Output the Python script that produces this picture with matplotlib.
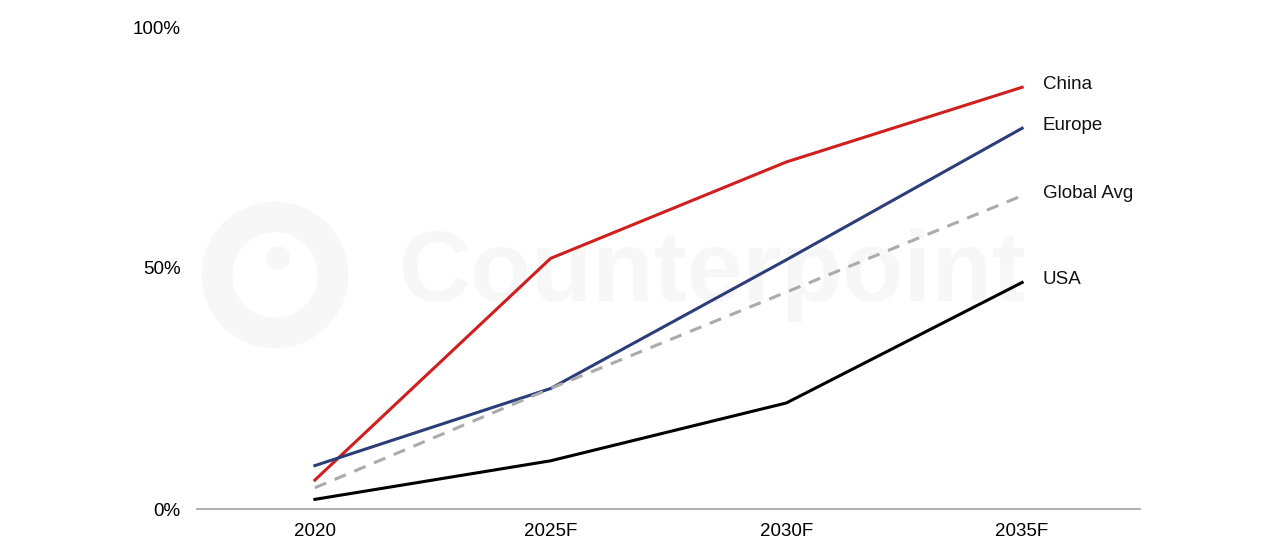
import matplotlib
matplotlib.use("Agg")
import matplotlib.pyplot as plt

plt.rcParams['font.family'] = ['Liberation Sans', 'DejaVu Sans']

years = ["2020", "2025F", "2030F", "2035F"]
china = [6, 52, 72, 87.5]
europe = [9, 25, 51.7, 79]
global_avg = [4.4, 25, 45, 65]
usa = [2, 10, 22, 47]
yticks = [0, 50, 100]
ytick_labels = ["0%", "50%", "100%"]

fig = plt.figure(figsize=(12.8, 5.45), dpi=100)
ax = fig.add_axes([197/1280, 1-509/545, (1140-197)/1280, (509-27)/545])
ax.set_zorder(5)

# faint watermark (behind everything)
wm = '#f7f7f7'
fig.text(0.312, 0.495, "Counterpoint", fontsize=72, fontweight='bold', color=wm,
         ha='left', va='center', zorder=0)
ring = plt.Circle((275, 545-275), 58, transform=None, fill=False, lw=22, ec=wm, zorder=0)
fig.patches.append(ring)
dot = plt.Circle((278, 545-258), 12, transform=None, fc=wm, ec='none', zorder=0)
fig.patches.append(dot)

x = list(range(len(years)))
series = [
    ("China", china, '#d01f1f', '-'),
    ("Europe", europe, '#2c3e78', '-'),
    ("Global Avg", global_avg, '#ababab', (0, (4, 3))),
    ("USA", usa, '#000000', '-'),
]
for name, vals, col, ls in series:
    ax.plot(x, vals, color=col, lw=2.2, ls=ls, zorder=3)
    ax.annotate(name, xy=(x[-1], vals[-1]), xytext=(15, 1.8), textcoords='offset points',
                fontsize=13.5, ha='left', va='center', color='#111111')

ax.set_xlim(-0.5, 3.5)
ax.set_ylim(0, 100)
ax.set_xticks(x)
ax.set_xticklabels(years, fontsize=13.5)
ax.tick_params(length=0)
ax.tick_params(axis='x', pad=10)
ax.set_yticks(yticks)
ax.set_yticklabels(ytick_labels, fontsize=13.5)
ax.tick_params(axis='y', pad=12)
for s in ['top', 'right', 'left']:
    ax.spines[s].set_visible(False)
ax.spines['bottom'].set_color('#a0a0a0')
ax.spines['bottom'].set_linewidth(1.2)
ax.patch.set_alpha(0)

fig.savefig("out.png", dpi=100)
